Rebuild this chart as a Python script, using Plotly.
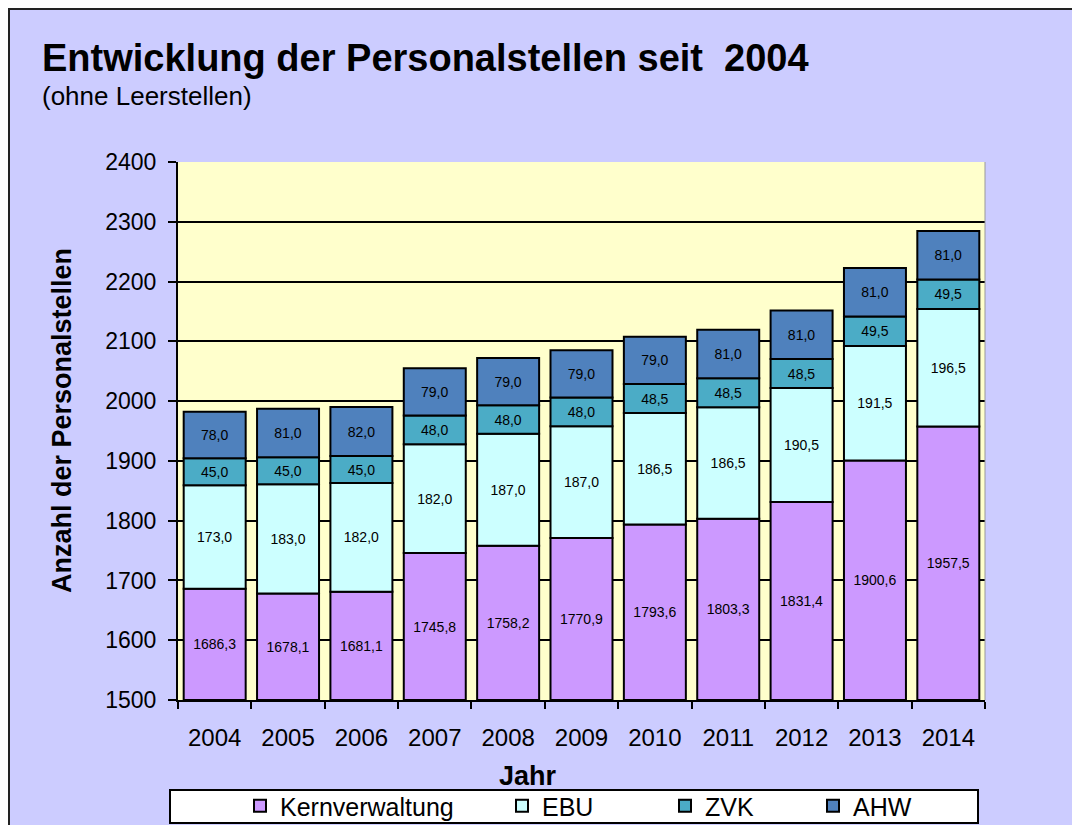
import plotly.graph_objects as go

years = ["2004", "2005", "2006", "2007", "2008", "2009", "2010", "2011", "2012", "2013", "2014"]
kern = [1686.3, 1678.1, 1681.1, 1745.8, 1758.2, 1770.9, 1793.6, 1803.3, 1831.4, 1900.6, 1957.5]
ebu = [173.0, 183.0, 182.0, 182.0, 187.0, 187.0, 186.5, 186.5, 190.5, 191.5, 196.5]
zvk = [45.0, 45.0, 45.0, 48.0, 48.0, 48.0, 48.5, 48.5, 48.5, 49.5, 49.5]
ahw = [78.0, 81.0, 82.0, 79.0, 79.0, 79.0, 79.0, 81.0, 81.0, 81.0, 81.0]
y_ticks = [1500, 1600, 1700, 1800, 1900, 2000, 2100, 2200, 2300, 2400]
y_min, y_max = 1500, 2400

series = [
    ("Kernverwaltung", kern, "#CC99FF", "legend"),
    ("EBU", ebu, "#CCFFFF", "legend2"),
    ("ZVK", zvk, "#4BACC6", "legend3"),
    ("AHW", ahw, "#4F81BD", "legend4"),
]

W, H = 1080, 825
O = 8  # page offset of the figure (body margin)
L, R, T, B = 178 - O, 985 - O, 162 - O, 700 - O  # plot area in figure pixels
pw, ph = R - L, B - T

def px(x):  # page pixel -> paper x
    return (x - O - L) / pw

def py(y):  # page pixel -> paper y
    return (B - (y - O)) / ph

def cx(x):  # page pixel -> container x
    return (x - O) / W

def cy(y):  # page pixel -> container y
    return 1 - (y - O) / H

font = "Arial, Liberation Sans, sans-serif"

fig = go.Figure()
cum = [y_min] * len(years)
for name, vals, color, lg in series:
    if name == "Kernverwaltung":
        heights = [v - y_min for v in vals]
    else:
        heights = list(vals)
    fig.add_trace(go.Bar(
        x=years, y=heights, base=list(cum), name=name, legend=lg,
        marker=dict(color=color, line=dict(color="black", width=2)),
        text=[f"{v:.1f}".replace(".", ",") for v in vals],
        textposition="inside", insidetextanchor="middle", textangle=0,
        textfont=dict(family=font, size=14, color="black"),
    ))
    cum = [c + h for c, h in zip(cum, heights)]

legend_x = {"legend": 240, "legend2": 502, "legend3": 665, "legend4": 813}
legends = {}
for lg, xp in legend_x.items():
    legends[lg] = dict(
        x=cx(xp), y=cy(806), xref="container", yref="container",
        xanchor="left", yanchor="middle",
        orientation="h", bgcolor="rgba(0,0,0,0)", borderwidth=0,
        itemwidth=30,
        font=dict(family=font, size=25, color="black"),
    )

fig.update_layout(
    width=W, height=H,
    margin=dict(l=L, r=W - R, t=T, b=H - B, pad=0, autoexpand=False),
    barmode="overlay", bargap=0.155,
    paper_bgcolor="#CCCCFF", plot_bgcolor="#FFFFCC",
    font=dict(family=font, color="black"),
    showlegend=True,
    uniformtext=dict(minsize=14, mode="show"),
    xaxis=dict(
        type="category", tickson="boundaries", ticks="outside", ticklen=7,
        tickwidth=2, tickcolor="black", showline=True, linecolor="black",
        linewidth=2, showgrid=False, tickfont=dict(size=24, family=font),
        ticklabelstandoff=15,
    ),
    yaxis=dict(
        range=[y_min, y_max], tickvals=y_ticks, ticks="outside", ticklen=8,
        tickwidth=2, tickcolor="black", showline=True, linecolor="black",
        linewidth=2, showgrid=True, gridcolor="black", gridwidth=2,
        tickfont=dict(size=23, family=font), zeroline=False,
        ticklabelstandoff=7,
    ),
    **legends,
)

shapes = [
    # outer border (figure edge)
    dict(type="rect", xref="paper", yref="paper",
         x0=px(9), x1=px(1100), y0=py(850), y1=py(9),
         line=dict(color="#222222", width=2), fillcolor="rgba(0,0,0,0)", layer="below"),
    # plot area right edge
    dict(type="line", xref="paper", yref="paper", x0=1, x1=1, y0=0, y1=1,
         line=dict(color="#999999", width=1)),
    # legend box
    dict(type="rect", xref="paper", yref="paper",
         x0=px(170), x1=px(978), y0=py(823), y1=py(790),
         line=dict(color="black", width=2), fillcolor="white", layer="below"),
]
fig.update_layout(shapes=shapes)

fig.add_annotation(text="<b>Entwicklung der Personalstellen seit  2004</b>",
                   xref="paper", yref="paper", x=px(40), y=py(58),
                   xanchor="left", yanchor="middle", showarrow=False,
                   font=dict(family=font, size=38, color="black"))
fig.add_annotation(text="(ohne Leerstellen)",
                   xref="paper", yref="paper", x=px(40), y=py(96),
                   xanchor="left", yanchor="middle", showarrow=False,
                   font=dict(family=font, size=26, color="black"))
fig.add_annotation(text="<b>Anzahl der Personalstellen</b>",
                   xref="paper", yref="paper", x=px(62), y=py(420),
                   xanchor="center", yanchor="middle", showarrow=False, textangle=-90,
                   font=dict(family=font, size=27, color="black"))
fig.add_annotation(text="<b>Jahr</b>",
                   xref="paper", yref="paper", x=px(528), y=py(776),
                   xanchor="center", yanchor="middle", showarrow=False,
                   font=dict(family=font, size=27, color="black"))

fig.write_html("out.html")
